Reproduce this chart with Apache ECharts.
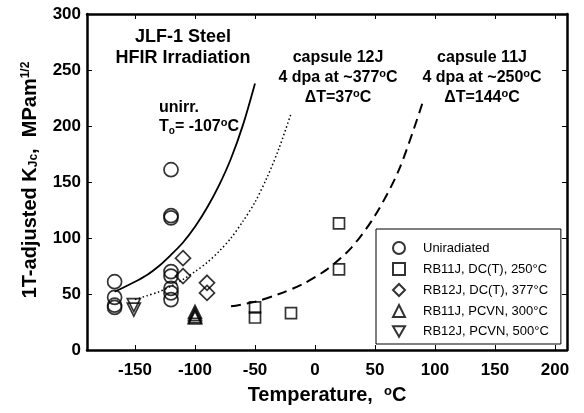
<!DOCTYPE html>
<html lang="en">
<head>
<meta charset="UTF-8">
<title>JLF-1 Steel KJc</title>
<script src="https://cdn.jsdelivr.net/npm/echarts/dist/echarts.min.js"></script>
<style>
  html, body { margin: 0; padding: 0; background: #fff; }
  #chart { width: 584px; height: 413px; }
</style>
</head>
<body>
<div id="chart"></div>
<script>
// ---- data ----
const xTicks = [-150, -100, -50, 0, 50, 100, 150, 200];

const unirrT = [-167, -167, -167, -167, -120, -120, -120, -120, -120, -120, -120, -120];
const unirrK = [61, 47, 40, 38, 161, 120, 118, 70, 66, 55, 51, 45];

const rb11jDctT = [-50, -50, -20, 20, 20];
const rb11jDctK = [38, 29, 33, 113, 72];

const rb12jDctT = [-110, -110, -90, -90];
const rb12jDctK = [82, 66, 60, 51];

const rb11jPcvnT = [-100, -100, -100, -100];
const rb11jPcvnK = [34, 32, 30, 29];

const rb12jPcvnT = [-151, -151];
const rb12jPcvnK = [40, 36];

// master curves
const unirrCurve = [[-167, 52], [-150, 61], [-140, 67], [-130, 75], [-120, 85], [-110, 96],
  [-100, 110], [-90, 127], [-80, 147], [-70, 171], [-60, 201], [-50, 238]];
const cap12Curve = [[-150, 45], [-140, 48.5], [-130, 52], [-120, 57], [-110, 63], [-100, 70],
  [-90, 78], [-80, 88], [-70, 100], [-60, 115], [-50, 132], [-40, 154], [-30, 180], [-20, 211]];
const cap11Curve = [[-70, 39], [-50, 43], [-30, 50], [-10, 59], [10, 72], [30, 91],
  [50, 120], [70, 161], [90, 222]];

const names = ['Uniradiated', 'RB11J, DC(T), 250°C', 'RB12J, DC(T), 377°C',
  'RB11J, PCVN, 300°C', 'RB12J, PCVN, 500°C'];

const FONT = "'Liberation Sans', Arial, Helvetica, sans-serif";
const DOWN_TRI = 'path://M0,0 L10,0 L5,8.66 Z';

function pairs(xs, ys) {
  return xs.map((x, i) => [x, ys[i]]);
}

function marker(name, xs, ys, symbol, size) {
  return {
    name: name,
    type: 'scatter',
    symbol: symbol,
    symbolSize: size,
    itemStyle: { color: 'rgba(0,0,0,0)', borderColor: '#000', borderWidth: 1.7 },
    data: pairs(xs, ys),
    z: 5
  };
}

function curve(data, type, width) {
  return {
    type: 'line',
    data: data,
    smooth: 0.3,
    showSymbol: false,
    silent: true,
    lineStyle: { color: '#000', width: width, type: type },
    z: 3
  };
}

var chart = echarts.init(document.getElementById('chart'));

var frameX = {
  type: 'value', min: -190, max: 210,
  axisLine: { show: true, onZero: false, lineStyle: { color: '#000', width: 2.5 } },
  axisTick: { show: true, inside: true, length: 5, customValues: xTicks, lineStyle: { color: '#000', width: 1 } },
  splitLine: { show: false }
};
var frameY = {
  type: 'value', min: 0, max: 300, interval: 50,
  axisLine: { show: true, onZero: false, lineStyle: { color: '#000', width: 2.5 } },
  axisTick: { show: true, inside: true, length: 5, lineStyle: { color: '#000', width: 1 } },
  splitLine: { show: false }
};

var option = {
  backgroundColor: '#fff',
  animation: false,
  grid: { left: 87, right: 17, top: 14, bottom: 63 },
  xAxis: [
    Object.assign({}, frameX, {
      position: 'bottom',
      axisLabel: { customValues: xTicks, color: '#000', fontFamily: FONT, fontWeight: 'bold', fontSize: 17, margin: 12 },
      name: 'Temperature,  {sup|o}C',
      nameLocation: 'middle',
      nameGap: 35,
      nameTextStyle: {
        color: '#000', fontFamily: FONT, fontWeight: 'bold', fontSize: 20,
        rich: { sup: { fontSize: 13, fontWeight: 'bold', fontFamily: FONT, verticalAlign: 'top', color: '#000' } }
      }
    }),
    Object.assign({}, frameX, { position: 'top', axisLabel: { show: false } })
  ],
  yAxis: [
    Object.assign({}, frameY, {
      position: 'left',
      axisLabel: { color: '#000', fontFamily: FONT, fontWeight: 'bold', fontSize: 17, margin: 6 }
    }),
    Object.assign({}, frameY, { position: 'right', axisLabel: { show: false } })
  ],
  legend: {
    data: names,
    orient: 'vertical',
    left: 376,
    top: 229,
    itemWidth: 12,
    itemHeight: 12,
    itemGap: 7,
    padding: [12, 12, 6, 16],
    borderColor: '#000',
    borderWidth: 1,
    backgroundColor: '#fff',
    textStyle: { color: '#000', fontFamily: FONT, fontSize: 13, padding: [0, 0, 0, 13] },
    selectedMode: false
  },
  series: [
    curve(unirrCurve, 'solid', 1.8),
    curve(cap12Curve, [1.5, 2.5], 1.5),
    curve(cap11Curve, [10, 6], 2),
    marker(names[0], unirrT, unirrK, 'circle', 14),
    marker(names[1], rb11jDctT, rb11jDctK, 'rect', 11),
    marker(names[2], rb12jDctT, rb12jDctK, 'diamond', 15),
    marker(names[3], rb11jPcvnT, rb11jPcvnK, 'triangle', 13),
    marker(names[4], rb12jPcvnT, rb12jPcvnK, DOWN_TRI, 13)
  ],
  graphic: [
    {
      type: 'text', x: 30, y: 180, rotation: Math.PI / 2,
      style: {
        text: '1T-adjusted K{sub|Jc},  MPam{sup|1/2}',
        align: 'center', verticalAlign: 'middle',
        font: 'bold 20px ' + FONT, fill: '#000',
        rich: {
          sub: { fontSize: 12, fontWeight: 'bold', fontFamily: FONT, verticalAlign: 'bottom', padding: [6, 0, 0, 0] },
          sup: { fontSize: 12, fontWeight: 'bold', fontFamily: FONT, verticalAlign: 'top' }
        }
      }
    },
    {
      type: 'text', x: 183, y: 48,
      style: {
        text: 'JLF-1 Steel\nHFIR Irradiation',
        align: 'center', verticalAlign: 'middle', lineHeight: 21,
        font: 'bold 18px ' + FONT, fill: '#000'
      }
    },
    {
      type: 'text', x: 159, y: 117,
      style: {
        text: 'unirr.\nT{sub|o}= -107{sup|o}C',
        align: 'left', verticalAlign: 'middle', lineHeight: 19,
        font: 'bold 16px ' + FONT, fill: '#000',
        rich: {
          sub: { fontSize: 10, fontWeight: 'bold', fontFamily: FONT, verticalAlign: 'bottom' },
          sup: { fontSize: 11, fontWeight: 'bold', fontFamily: FONT, verticalAlign: 'top' }
        }
      }
    },
    {
      type: 'text', x: 338, y: 78,
      style: {
        text: 'capsule 12J\n4 dpa at ~377{sup|o}C\nΔT=37{sup|o}C',
        align: 'center', verticalAlign: 'middle', lineHeight: 20,
        font: 'bold 16px ' + FONT, fill: '#000',
        rich: { sup: { fontSize: 11, fontWeight: 'bold', fontFamily: FONT, verticalAlign: 'top' } }
      }
    },
    {
      type: 'text', x: 482, y: 78,
      style: {
        text: 'capsule 11J\n4 dpa at ~250{sup|o}C\nΔT=144{sup|o}C',
        align: 'center', verticalAlign: 'middle', lineHeight: 20,
        font: 'bold 16px ' + FONT, fill: '#000',
        rich: { sup: { fontSize: 11, fontWeight: 'bold', fontFamily: FONT, verticalAlign: 'top' } }
      }
    }
  ]
};

chart.setOption(option);
window.onresize = chart.resize;
</script>
</body>
</html>
